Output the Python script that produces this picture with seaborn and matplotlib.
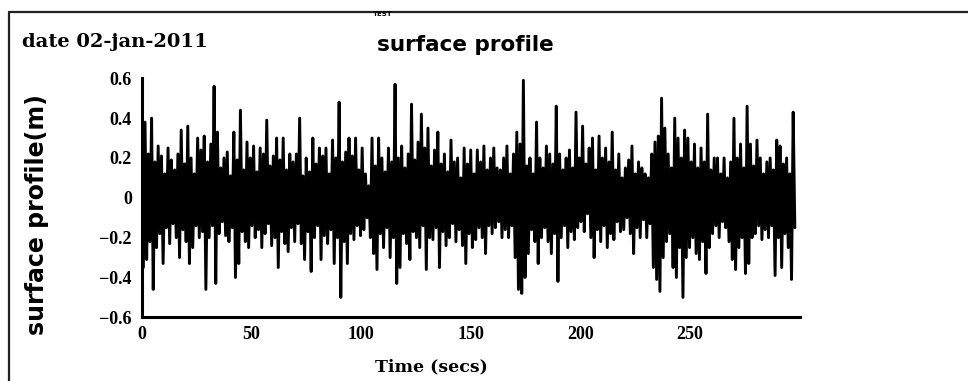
import numpy as np
import pandas as pd
import matplotlib
matplotlib.use("Agg")
import matplotlib.pyplot as plt
from matplotlib.lines import Line2D
from matplotlib.ticker import MultipleLocator
import seaborn as sns

# crest heights (m), one every 1.5 s starting at t = 0
crests = [
    0.30, 0.38, 0.22, 0.40, 0.18, 0.26, 0.21, 0.12, 0.25, 0.19,
    0.14, 0.22, 0.34, 0.17, 0.36, 0.20, 0.12, 0.30, 0.24, 0.31,
    0.18, 0.27, 0.56, 0.33, 0.15, 0.20, 0.23, 0.11, 0.33, 0.19,
    0.44, 0.14, 0.28, 0.20, 0.26, 0.13, 0.25, 0.22, 0.39, 0.16,
    0.21, 0.30, 0.19, 0.30, 0.14, 0.22, 0.18, 0.22, 0.40, 0.11,
    0.20, 0.13, 0.30, 0.17, 0.25, 0.21, 0.25, 0.12, 0.29, 0.20,
    0.48, 0.18, 0.23, 0.30, 0.21, 0.30, 0.14, 0.25, 0.12, 0.06,
    0.30, 0.16, 0.30, 0.20, 0.13, 0.25, 0.18, 0.57, 0.20, 0.26,
    0.15, 0.22, 0.47, 0.19, 0.28, 0.42, 0.25, 0.35, 0.16, 0.24,
    0.33, 0.17, 0.22, 0.13, 0.29, 0.18, 0.20, 0.10, 0.25, 0.17,
    0.24, 0.12, 0.24, 0.18, 0.26, 0.14, 0.20, 0.25, 0.15, 0.14,
    0.20, 0.26, 0.12, 0.22, 0.33, 0.27, 0.59, 0.16, 0.20, 0.12,
    0.38, 0.20, 0.15, 0.26, 0.22, 0.17, 0.46, 0.22, 0.14, 0.20,
    0.24, 0.15, 0.43, 0.20, 0.36, 0.17, 0.25, 0.30, 0.14, 0.31,
    0.20, 0.25, 0.18, 0.33, 0.14, 0.22, 0.10, 0.15, 0.19, 0.26,
    0.12, 0.18, 0.15, 0.12, 0.10, 0.22, 0.28, 0.31, 0.50, 0.35,
    0.22, 0.15, 0.40, 0.30, 0.20, 0.34, 0.30, 0.18, 0.27, 0.15,
    0.25, 0.18, 0.42, 0.14, 0.20, 0.20, 0.12, 0.20, 0.10, 0.18,
    0.40, 0.20, 0.27, 0.15, 0.46, 0.27, 0.16, 0.29, 0.20, 0.12,
    0.18, 0.20, 0.14, 0.29, 0.26, 0.17, 0.20, 0.12, 0.43,
]

# trough depths (m), one every 1.5 s starting at t = 0.75
troughs = [
    -0.35, -0.31, -0.22, -0.46, -0.25, -0.18, -0.33, -0.15, -0.23, -0.13,
    -0.20, -0.30, -0.16, -0.22, -0.33, -0.25, -0.14, -0.20, -0.17, -0.46,
    -0.20, -0.14, -0.43, -0.18, -0.12, -0.19, -0.22, -0.15, -0.40, -0.33,
    -0.17, -0.22, -0.25, -0.14, -0.20, -0.16, -0.25, -0.18, -0.13, -0.24,
    -0.20, -0.35, -0.17, -0.23, -0.27, -0.15, -0.22, -0.13, -0.23, -0.31,
    -0.17, -0.37, -0.20, -0.14, -0.31, -0.19, -0.23, -0.16, -0.33, -0.20,
    -0.50, -0.22, -0.33, -0.18, -0.21, -0.14, -0.19, -0.16, -0.10, -0.20,
    -0.28, -0.36, -0.18, -0.25, -0.15, -0.30, -0.20, -0.43, -0.35, -0.18,
    -0.23, -0.31, -0.17, -0.20, -0.25, -0.14, -0.36, -0.20, -0.21, -0.15,
    -0.35, -0.17, -0.24, -0.20, -0.13, -0.22, -0.16, -0.24, -0.33, -0.18,
    -0.25, -0.21, -0.15, -0.20, -0.28, -0.14, -0.18, -0.15, -0.12, -0.20,
    -0.16, -0.20, -0.14, -0.30, -0.46, -0.48, -0.40, -0.28, -0.16, -0.22,
    -0.33, -0.20, -0.15, -0.22, -0.28, -0.18, -0.42, -0.20, -0.14, -0.25,
    -0.17, -0.21, -0.15, -0.12, -0.17, -0.08, -0.20, -0.30, -0.16, -0.22,
    -0.14, -0.25, -0.18, -0.21, -0.12, -0.17, -0.16, -0.10, -0.18, -0.28,
    -0.15, -0.20, -0.11, -0.20, -0.13, -0.35, -0.41, -0.47, -0.30, -0.22,
    -0.18, -0.35, -0.40, -0.25, -0.50, -0.30, -0.25, -0.20, -0.28, -0.31,
    -0.22, -0.38, -0.25, -0.18, -0.14, -0.20, -0.12, -0.15, -0.22, -0.31,
    -0.36, -0.25, -0.20, -0.38, -0.33, -0.20, -0.18, -0.14, -0.21, -0.16,
    -0.20, -0.14, -0.39, -0.20, -0.35, -0.18, -0.25, -0.41, -0.15,
]

dt = 1.5
y_ticks = [0.6, 0.4, 0.2, 0.0, -0.2, -0.4, -0.6]
y_labels = ["0.6", "0.4", "0.2", "0", "\u22120.2", "\u22120.4", "\u22120.6"]
x_ticks = [0, 50, 100, 150, 200, 250]

t_crest = np.arange(len(crests)) * dt
t_trough = t_crest + dt / 2
df = pd.DataFrame({
    "time": np.concatenate([t_crest, t_trough]),
    "eta": np.concatenate([crests, troughs]),
}).sort_values("time")

sns.set_theme(style="white")
plt.rcParams.update({
    "text.color": "black",
    "axes.labelcolor": "black",
    "xtick.color": "black",
    "ytick.color": "black",
})

fig = plt.figure(figsize=(9.68, 3.81), dpi=100)
ax = fig.add_axes([0.1464, 0.1672, 0.6798, 0.6273])

sns.lineplot(data=df, x="time", y="eta", ax=ax, color="black",
             linewidth=2.1, estimator=None, sort=False)

ax.set_xlim(0, 300)
ax.set_ylim(-0.6, 0.6)
ax.set_yticks(y_ticks)
ax.set_yticklabels(y_labels)
ax.set_xticks(x_ticks)
ax.xaxis.set_minor_locator(MultipleLocator(10))
ax.yaxis.set_minor_locator(MultipleLocator(0.1))

for side in ["top", "right"]:
    ax.spines[side].set_visible(False)
for side in ["left", "bottom"]:
    ax.spines[side].set_linewidth(2.2)
    ax.spines[side].set_color("black")

ax.tick_params(axis="both", which="major", direction="in", length=5,
               width=1.3, color="black", labelcolor="black")
ax.tick_params(axis="both", which="minor", direction="in", length=2.5,
               width=1.0, color="black")
ax.tick_params(axis="y", pad=7)
ax.tick_params(axis="x", pad=6)
for lab in ax.get_xticklabels() + ax.get_yticklabels():
    lab.set_family("Liberation Serif")
    lab.set_fontweight("bold")
    lab.set_fontsize(13)

ax.set_xlabel("Time (secs)", family="DejaVu Serif", fontweight="bold",
              fontsize=12.5, va="center", color="black")
ax.xaxis.set_label_coords(0.44, -0.208)
ax.set_ylabel("surface profile(m)", family="DejaVu Sans", fontweight="bold",
              fontsize=17, va="center", color="black")
ax.yaxis.set_label_coords(-0.159, 0.43)

fig.text(465 / 968, 1 - 45 / 381, "surface profile", family="DejaVu Sans",
         fontweight="bold", fontsize=15.5, ha="center", va="center",
         color="black")
fig.text(383 / 968, 1 - 14 / 381, "TEST", family="DejaVu Sans",
         fontweight="bold", fontsize=5, ha="center", va="center",
         color="black")
fig.text(22 / 968, 1 - 42 / 381, "date 02-jan-2011", family="DejaVu Serif",
         fontweight="bold", fontsize=14, ha="left", va="center",
         color="black")

# frame round the figure (only top and left edges are visible)
fig.add_artist(Line2D([9 / 968, 1], [1 - 12 / 381, 1 - 12 / 381],
                      transform=fig.transFigure, color="#222222", lw=1.6))
fig.add_artist(Line2D([9 / 968, 9 / 968], [0, 1 - 12 / 381],
                      transform=fig.transFigure, color="#222222", lw=1.6))

fig.savefig("out.png", dpi=100, facecolor="white")
